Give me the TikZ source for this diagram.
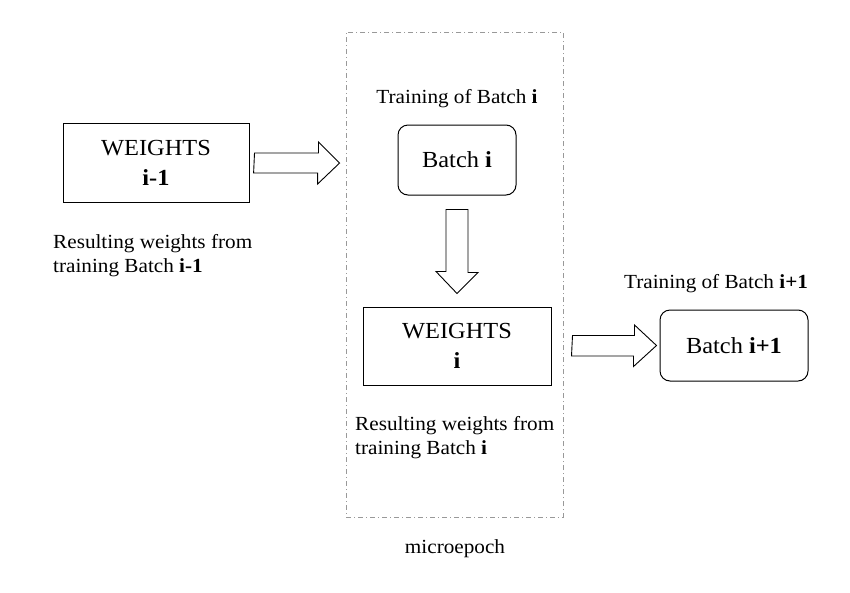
\documentclass[tikz,border=0pt]{standalone}
\usepackage{fontspec}
\setmainfont[FakeStretch=1.06]{Liberation Serif}
\usetikzlibrary{calc}
\begin{document}
\begin{tikzpicture}[x=1pt,y=-1pt,
  sqbox/.style={draw,line width=1pt,inner sep=0pt,align=center,font=\fontsize{23}{30}\selectfont},
  rbox/.style={draw,line width=1pt,rounded corners=10pt,inner sep=0pt,align=center,font=\fontsize{23}{30}\selectfont},
  lbl/.style={inner sep=0pt,align=left,font=\fontsize{20}{24}\selectfont},
  captxt/.style={inner sep=0pt,font=\fontsize{20}{24}\selectfont,anchor=base},
  fatarrow/.style={draw,line width=0.9pt,fill=white,line join=miter},
]
\useasboundingbox (0,0) rectangle (850,592);
% dash-dot frame
\node[draw=gray!80,line width=0.8pt,dash pattern=on 5pt off 3pt on 1pt off 3pt,inner sep=0pt,
      minimum width=217pt,minimum height=485pt] (frame) at (454.5,274.5) {};
% left weights
\node[sqbox,minimum width=186pt,minimum height=79pt] (w1) at (156,162.5) {WEIGHTS\\\textbf{i-1}};
\node[lbl,anchor=north west] (l1) at (53,234) {Resulting weights from\\training Batch \textbf{i-1}};
% batch i
\node[captxt] (t1) at (457,103) {Training of Batch \textbf{i}};
\node[rbox,minimum width=118pt,minimum height=70pt] (b1) at (457,160) {Batch \textbf{i}};
% weights i
\node[sqbox,minimum width=188pt,minimum height=78pt] (w2) at (457,346) {WEIGHTS\\\textbf{i}};
\node[lbl,anchor=north west] (l2) at (355,416) {Resulting weights from\\training Batch \textbf{i}};
% batch i+1
\node[captxt] (t2) at (716,288) {Training of Batch \textbf{i+1}};
\node[rbox,minimum width=148pt,minimum height=71pt] (b2) at (734,345.5) {Batch \textbf{i+1}};
% microepoch
\node[captxt] (me) at (455,553) {microepoch};
% block arrows
\coordinate (a1s) at ($(w1.east)+(5,0.5)$);
\coordinate (a1e) at ($(frame.west)+(-6,-111.5)$);
\draw[fatarrow] (a1s) ++(0,-10) -- ++(64,0) -- ++(0,-11) -- (a1e) -- ++(-22,21) -- ++(0,-11) -- ++(-64,0) -- cycle;
\coordinate (a2s) at ($(b1.south)+(0,14)$);
\coordinate (a2e) at ($(w2.north)+(0,-13)$);
\draw[fatarrow] (a2s) ++(-11,0) -- ++(22,0) -- ++(0,63) -- ++(10,0) -- (a2e) -- ++(-21,-22) -- ++(10,0) -- cycle;
\coordinate (a3s) at ($(w2.east)+(21,0)$);
\coordinate (a3e) at ($(b2.west)+(-3,0)$);
\draw[fatarrow] (a3s) ++(0,-10.5) -- ++(62,0) -- ++(0,-10.5) -- (a3e) -- ++(-23,21) -- ++(0,-10.5) -- ++(-62,0) -- cycle;
\end{tikzpicture}
\end{document}
